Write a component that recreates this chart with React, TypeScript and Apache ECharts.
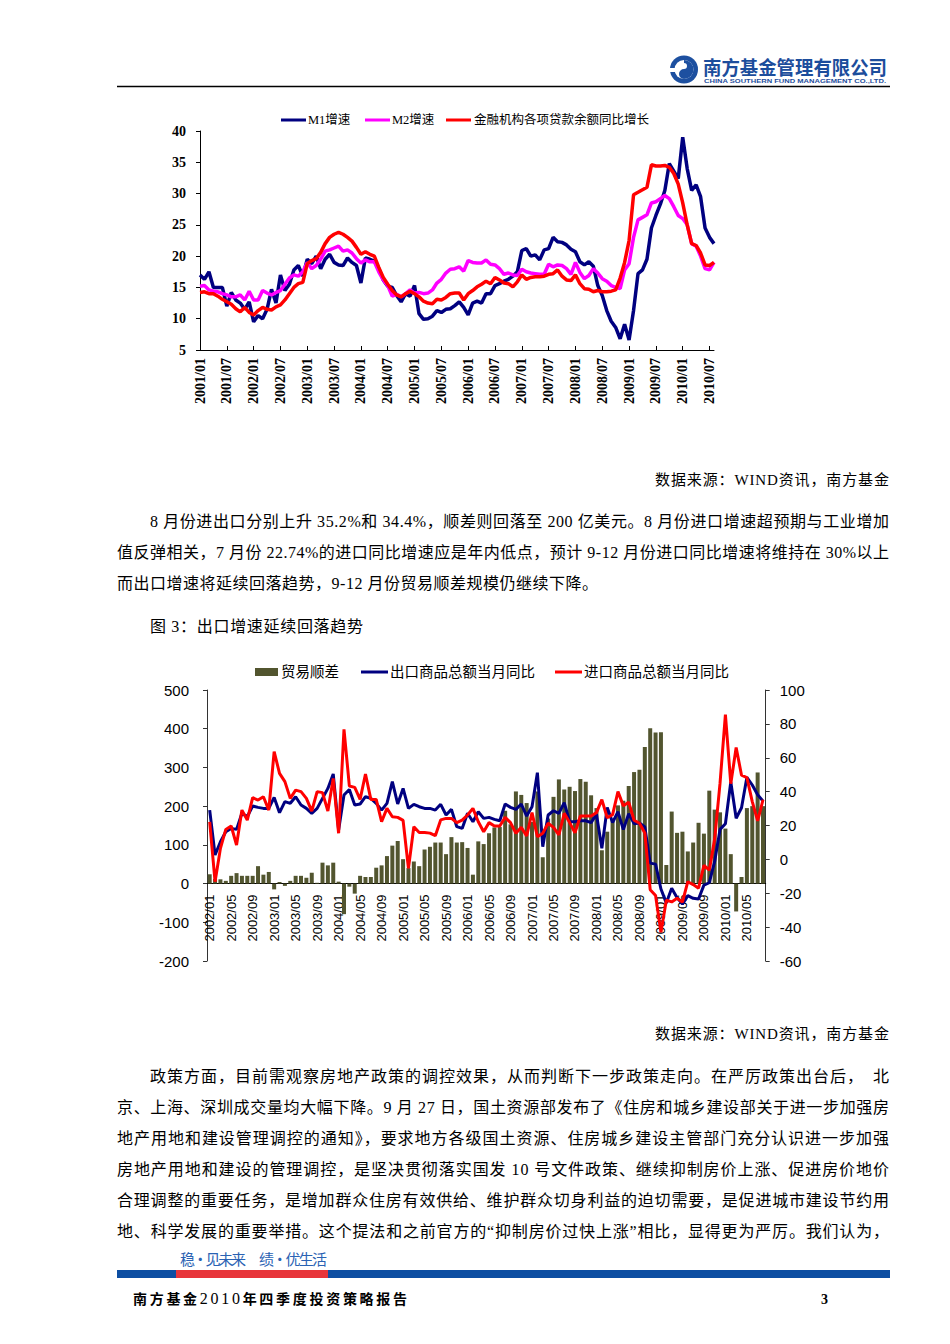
import React, { useEffect, useRef } from "react";
import * as echarts from "echarts";

function monthLabels(startYear: number, startMonth: number, count: number): string[] {
  const out: string[] = [];
  let y = startYear;
  let m = startMonth;
  for (let i = 0; i < count; i++) {
    out.push(y + "/" + (m < 10 ? "0" + m : "" + m));
    m++;
    if (m > 12) { m = 1; y++; }
  }
  return out;
}

// ---------- Chart 1: M1 / M2 / loans growth (2001/01 - 2010/08) ----------
const months1 = monthLabels(2001, 1, 116);
const m1Growth = [
  17.0, 16.3, 17.5, 15.0, 15.0, 15.0, 12.0, 14.2, 13.0, 12.5, 11.5, 12.7,
  9.5, 10.5, 10.0, 11.5, 14.7, 12.5, 17.0, 14.5, 15.5, 17.8, 18.5, 16.8,
  19.5, 18.8, 20.0, 18.0, 19.5, 20.3, 19.0, 18.6, 18.5, 19.7, 19.0, 18.5,
  15.7, 19.7, 19.5, 19.2, 18.0, 16.2, 15.2, 15.0, 13.7, 12.7, 14.0, 13.6,
  15.3, 10.8, 9.9, 10.0, 10.4, 11.3, 11.0, 11.5, 11.6, 12.1, 12.7, 11.8,
  10.6, 12.5, 12.8, 12.5, 14.0, 14.0, 15.3, 15.6, 16.0, 16.3, 16.8, 17.5,
  20.9, 21.2, 20.0, 20.2, 19.4, 21.0, 21.2, 23.0, 22.3, 22.2, 21.8, 21.1,
  20.7, 19.1, 18.6, 19.1, 18.4, 15.3, 13.7, 11.3, 9.6, 8.6, 6.8, 9.1,
  6.6, 11.3, 17.2, 17.8, 19.5, 24.5, 26.5, 28.3, 30.5, 34.8, 33.6, 32.4,
  39.0, 34.0, 30.5, 31.4, 29.5, 24.5, 23.0, 22.0,
];
const m2Growth = [
  15.2, 15.3, 14.6, 14.4, 14.3, 14.0, 13.8, 13.5, 13.5, 13.8, 13.0, 14.4,
  13.0, 13.0, 14.5, 14.1, 13.8, 14.2, 14.5, 15.5, 16.5, 17.0, 16.8, 17.5,
  19.0, 18.0, 18.5, 19.5, 20.8, 21.0, 21.3, 21.6, 20.8, 21.0, 20.5, 19.6,
  18.9, 19.4, 19.1, 19.1, 17.5, 16.2, 15.3, 13.6, 13.9, 13.5, 14.0, 14.6,
  14.1, 14.2, 14.0, 14.1, 14.6, 15.7, 16.3, 17.3, 17.9, 18.0, 18.3, 17.6,
  19.3, 19.0, 18.9, 18.9, 19.4, 18.7, 18.6, 18.0, 17.1, 17.3, 17.0, 16.9,
  17.9, 17.5, 17.3, 17.2, 17.1, 17.1, 18.7, 18.3, 18.6, 18.5, 18.0, 17.1,
  19.0, 17.4, 16.4, 16.9, 18.0, 17.3, 16.4, 16.0, 15.3, 15.0, 14.8, 17.8,
  18.8, 23.0, 25.8, 26.2, 26.6, 28.5, 28.7, 29.2, 29.7, 29.2, 27.9, 26.5,
  26.0, 25.0, 22.0, 21.6, 20.0, 18.0, 17.8, 19.0,
];
const loanGrowth = [
  14.2, 14.3, 14.0, 14.0, 13.6, 13.1, 12.7, 12.3, 11.6, 11.1, 11.8, 11.0,
  10.6, 11.3, 11.8, 11.5, 11.4, 11.9, 12.2, 13.0, 14.0, 15.0, 15.6, 15.8,
  18.8, 19.3, 19.6, 20.6, 22.0, 23.0, 23.5, 23.8, 23.5, 23.0, 22.4, 21.4,
  20.3, 20.7, 20.3, 20.0, 18.2, 16.6, 15.5, 14.5, 13.8, 13.5, 14.0, 14.4,
  14.0, 13.5, 12.8, 12.5, 12.4, 13.1, 13.0, 13.4, 14.0, 14.1, 14.1, 13.0,
  14.0, 14.5, 15.1, 15.5, 16.0, 15.6, 16.6, 16.2, 15.7, 15.6, 15.1, 15.9,
  17.0, 16.3, 16.6, 16.7, 16.7, 16.8, 17.1, 17.2, 17.8, 16.8, 16.2, 16.1,
  17.0, 15.6, 14.8, 14.7, 14.3, 14.5, 14.3, 14.3, 14.4, 14.6, 16.5, 19.0,
  22.5, 29.8, 30.2, 30.6, 31.0, 34.6, 34.4, 34.4, 34.5, 34.2, 33.2, 31.5,
  28.5, 25.0, 22.0, 21.7, 20.5, 18.6, 18.5, 19.0,
];
const legend1 = ["M1增速", "M2增速", "金融机构各项贷款余额同比增长"];

// ---------- Chart 2: trade surplus / export & import yoy (2002/01 - 2010/08) ----------
const months2 = monthLabels(2002, 1, 104);
const tradeSurplus = [
  24, 12, 11, 7, 20, 27, 20, 20, 20, 45, 23, 30,
  -15, 4, -6, 7, 20, 20, 15, 28, 2, 54, 47, 54,
  5, -79, -8, -26, 20, 17, 17, 41, 47, 71, 98, 110,
  63, 40, 57, 45, 88, 95, 106, 106, 76, 120, 106, 107,
  92, 23, 109, 102, 130, 145, 146, 188, 153, 238, 229, 208,
  159, 238, 68, 168, 224, 269, 243, 250, 239, 270, 263, 228,
  195, 86, 134, 167, 202, 214, 252, 288, 294, 353, 401, 390,
  391, 48, 186, 131, 134, 83, 106, 157, 129, 240, 191, 184,
  142, 76, -72, 17, 195, 200, 287, 200,
];
const exportYoY = [
  29.1, 2.6, 10.4, 16.3, 18.3, 17.7, 27.2, 25.2, 31.5, 30.7, 30.1, 30.1,
  36.6, 27.6, 34.1, 33.1, 37.0, 32.1, 30.1, 27.2, 30.1, 36.0, 41.9, 50.4,
  17.3, 38.0, 41.3, 32.1, 32.7, 37.0, 36.0, 33.1, 29.1, 33.1, 45.9, 32.7,
  41.9, 30.1, 32.5, 31.1, 30.1, 30.1, 29.1, 32.5, 26.2, 29.5, 19.3, 18.3,
  27.2, 22.2, 28.1, 24.2, 24.8, 23.6, 22.8, 32.7, 30.7, 29.5, 32.7, 25.6,
  31.1, 51.2, 7.5, 26.2, 28.7, 27.2, 33.5, 22.2, 22.2, 22.8, 22.8, 21.7,
  26.7, 6.5, 30.6, 21.8, 28.1, 17.6, 26.9, 21.1, 21.5, 19.2, -2.2, -2.8,
  -17.5, -25.7, -17.1, -22.6, -26.4, -21.4, -23.0, -23.4, -15.2, -13.8, -1.2, 17.7,
  21.0, 45.7, 24.3, 30.5, 48.5, 43.9, 38.1, 34.4,
];
const importYoY = [
  22.2, -13.2, 6.5, 17.7, 19.7, 8.5, 29.1, 23.2, 36.4, 35.0, 37.0, 29.1,
  63.6, 50.8, 45.9, 36.0, 40.9, 40.0, 36.0, 28.5, 40.0, 39.4, 28.5, 47.8,
  15.4, 76.8, 43.3, 42.5, 35.4, 50.4, 35.4, 35.4, 22.2, 30.1, 25.2, 24.8,
  23.0, -5.3, 19.3, 15.9, 15.9, 15.5, 14.0, 23.3, 24.2, 24.2, 21.7, 23.2,
  26.2, 30.1, 22.2, 16.3, 21.7, 19.7, 19.7, 24.8, 21.7, 15.4, 18.9, 13.8,
  27.6, 13.4, 15.4, 21.3, 18.9, 14.4, 27.2, 21.7, 15.7, 25.6, 25.6, 25.6,
  27.6, 35.3, 24.6, 26.4, 40.0, 31.6, 33.7, 23.1, 21.3, 15.6, -17.9, -21.3,
  -43.1, -24.1, -25.1, -23.0, -25.2, -13.2, -14.9, -17.0, -3.5, -6.4, 12.0, 45.0,
  85.5, 44.7, 66.0, 49.7, 48.3, 34.1, 22.7, 35.2,
];
const legend2 = ["贸易顺差", "出口商品总额当月同比", "进口商品总额当月同比"];

// ---------- document text ----------
const sourceText = "数据来源：WIND资讯，南方基金";
const para1 = [
  "8 月份进出口分别上升 35.2%和 34.4%，顺差则回落至 200 亿美元。8 月份进口增速超预期与工业增加",
  "值反弹相关，7 月份 22.74%的进口同比增速应是年内低点，预计 9-12 月份进口同比增速将维持在 30%以上",
  "而出口增速将延续回落趋势，9-12 月份贸易顺差规模仍继续下降。",
];
const figTitle = "图 3：出口增速延续回落趋势";
const para2 = [
  "政策方面，目前需观察房地产政策的调控效果，从而判断下一步政策走向。在严厉政策出台后，　北",
  "京、上海、深圳成交量均大幅下降。9 月 27 日，国土资源部发布了《住房和城乡建设部关于进一步加强房",
  "地产用地和建设管理调控的通知》，要求地方各级国土资源、住房城乡建设主管部门充分认识进一步加强",
  "房地产用地和建设的管理调控，是坚决贯彻落实国发 10 号文件政策、继续抑制房价上涨、促进房价地价",
  "合理调整的重要任务，是增加群众住房有效供给、维护群众切身利益的迫切需要，是促进城市建设节约用",
  "地、科学发展的重要举措。这个提法和之前官方的“抑制房价过快上涨”相比，显得更为严厉。我们认为，",
];
const sloganLeft = "稳·见未来";
const sloganRight = "绩·优生活";

const NAVY = "#000080";
const MAGENTA = "#ff00ff";
const RED = "#ff0000";
const OLIVE = "#52552f";
const SERIF = '"Liberation Serif", "Noto Sans CJK SC", serif';
const SANS = '"Liberation Sans", "Noto Sans CJK SC", sans-serif';
const BODY = '"Liberation Serif", "Noto Sans CJK SC", serif';

function Chart1() {
  const ref = useRef<HTMLDivElement>(null);
  useEffect(() => {
    const chart = echarts.init(ref.current!, undefined, { renderer: "svg" });
    const legText = { fontFamily: SERIF, fontSize: 12.5, fill: "#000" };
    chart.setOption({
      animation: false,
      grid: { left: 50, top: 31, width: 514, height: 219, containLabel: false, outerBoundsMode: "none" },
      xAxis: {
        type: "category",
        data: months1,
        boundaryGap: false,
        axisLine: { show: true, lineStyle: { color: "#000", width: 1 } },
        axisTick: { show: true, inside: true, interval: 5, length: 4, lineStyle: { color: "#000" } },
        axisLabel: {
          interval: 5, rotate: 90, margin: 8, color: "#000",
          fontFamily: SERIF, fontWeight: "bold", fontSize: 14,
        },
        splitLine: { show: false },
      },
      yAxis: {
        type: "value", min: 5, max: 40, interval: 5,
        axisLine: { show: true, lineStyle: { color: "#000", width: 1 } },
        axisTick: { show: true, length: 4, lineStyle: { color: "#000" } },
        axisLabel: { margin: 14, color: "#000", fontFamily: SERIF, fontWeight: "bold", fontSize: 14 },
        splitLine: { show: false },
      },
      series: [
        { name: legend1[0], type: "line", data: m1Growth, symbol: "none", lineStyle: { color: NAVY, width: 3.5 }, itemStyle: { color: NAVY } },
        { name: legend1[1], type: "line", data: m2Growth, symbol: "none", lineStyle: { color: MAGENTA, width: 3.5 }, itemStyle: { color: MAGENTA } },
        { name: legend1[2], type: "line", data: loanGrowth, symbol: "none", lineStyle: { color: RED, width: 3.5 }, itemStyle: { color: RED } },
      ],
      graphic: [
        { type: "rect", shape: { x: 131, y: 18.5, width: 25, height: 3 }, style: { fill: NAVY } },
        { type: "text", x: 158, y: 20, style: { ...legText, text: legend1[0], verticalAlign: "middle" } },
        { type: "rect", shape: { x: 215, y: 18.5, width: 25, height: 3 }, style: { fill: MAGENTA } },
        { type: "text", x: 242, y: 20, style: { ...legText, text: legend1[1], verticalAlign: "middle" } },
        { type: "rect", shape: { x: 296, y: 18.5, width: 25, height: 3 }, style: { fill: RED } },
        { type: "text", x: 324, y: 20, style: { ...legText, text: legend1[2], verticalAlign: "middle" } },
      ],
    });
    return () => chart.dispose();
  }, []);
  return <div ref={ref} style={{ position: "absolute", left: 150, top: 100, width: 600, height: 320 }} />;
}

function Chart2() {
  const ref = useRef<HTMLDivElement>(null);
  useEffect(() => {
    const chart = echarts.init(ref.current!, undefined, { renderer: "svg" });
    const legText = { fontFamily: SANS, fontSize: 14.5, fill: "#000", verticalAlign: "middle" };
    const yLabel = { color: "#000", fontFamily: SANS, fontSize: 15 };
    const gridTop = 40;
    const gridHeight = 271;
    // the category axis sits on the left axis' zero line
    const zeroOffset = -(gridHeight * 200) / 700;
    chart.setOption({
      animation: false,
      grid: { left: 57, top: gridTop, width: 558.7, height: gridHeight, containLabel: false, outerBoundsMode: "none" },
      xAxis: {
        type: "category",
        data: months2,
        boundaryGap: true,
        position: "bottom",
        offset: zeroOffset,
        axisLine: { show: true, onZero: false, lineStyle: { color: "#000", width: 1 } },
        axisTick: { show: false },
        axisLabel: { interval: 3, rotate: 90, margin: 11, color: "#000", fontFamily: SANS, fontSize: 13 },
        splitLine: { show: false },
      },
      yAxis: [
        {
          type: "value", min: -200, max: 500, interval: 100,
          axisLine: { show: true, lineStyle: { color: "#333", width: 1 } },
          axisTick: { show: true, length: 4, lineStyle: { color: "#333" } },
          axisLabel: { margin: 18, ...yLabel },
          splitLine: { show: false },
        },
        {
          type: "value", min: -60, max: 100, interval: 20, position: "right",
          axisLine: { show: true, lineStyle: { color: "#333", width: 1 } },
          axisTick: { show: true, length: 4, lineStyle: { color: "#333" } },
          axisLabel: { margin: 14, ...yLabel },
          splitLine: { show: false },
        },
      ],
      series: [
        { name: legend2[0], type: "bar", yAxisIndex: 0, data: tradeSurplus, barWidth: 4, itemStyle: { color: OLIVE } },
        { name: legend2[1], type: "line", yAxisIndex: 1, data: exportYoY, symbol: "none", lineStyle: { color: NAVY, width: 3 }, itemStyle: { color: NAVY } },
        { name: legend2[2], type: "line", yAxisIndex: 1, data: importYoY, symbol: "none", lineStyle: { color: RED, width: 3 }, itemStyle: { color: RED } },
      ],
      graphic: [
        { type: "rect", shape: { x: 105, y: 18, width: 23, height: 8 }, style: { fill: OLIVE } },
        { type: "text", x: 131, y: 22, style: { ...legText, text: legend2[0] } },
        { type: "rect", shape: { x: 211, y: 20.5, width: 27, height: 3 }, style: { fill: NAVY } },
        { type: "text", x: 240, y: 22, style: { ...legText, text: legend2[1] } },
        { type: "rect", shape: { x: 405, y: 20.5, width: 27, height: 3 }, style: { fill: RED } },
        { type: "text", x: 434, y: 22, style: { ...legText, text: legend2[2] } },
      ],
    });
    return () => chart.dispose();
  }, []);
  return <div ref={ref} style={{ position: "absolute", left: 150, top: 650, width: 680, height: 340 }} />;
}

function Page() {
  const bodyProps = { fontFamily: BODY, fontSize: 16, fill: "#000" };
  return (
    <svg width={950} height={1344} style={{ position: "absolute", left: 0, top: 0 }}>
      <rect x={0} y={0} width={950} height={1344} fill="#fff" />
      {/* header logo */}
      <g>
        <circle cx={684} cy={69.5} r={14} fill="#1d50a0" />
        <circle cx={684} cy={69.5} r={9.5} fill="#fff" />
        <path d="M684,60 A9.5,9.5 0 0 1 684,79 A5,5 0 0 1 684,69 A3,3 0 0 0 684,63 Z" fill="#1d50a0" />
        <rect x={669} y={68} width={6} height={4} fill="#fff" />
      </g>
      <text x={703} y={75} fontFamily='"Noto Sans CJK SC", sans-serif' fontWeight="bold" fontSize={19} fill="#1c4d9c" textLength={184} lengthAdjust="spacingAndGlyphs">南方基金管理有限公司</text>
      <text x={704} y={82.5} fontFamily='"Liberation Sans", sans-serif' fontWeight="bold" fontSize={5.5} fill="#1c4d9c" textLength={182} lengthAdjust="spacingAndGlyphs">CHINA SOUTHERN FUND MANAGEMENT CO.,LTD.</text>
      <line x1={117} y1={86.5} x2={890} y2={86.5} stroke="#000" strokeWidth={1.5} />

      {/* source 1 */}
      <text x={655} y={485} fontFamily={BODY} fontSize={15} fill="#000" textLength={234} lengthAdjust="spacing">{sourceText}</text>

      {/* paragraph 1 */}
      <text x={150} y={527} {...bodyProps} textLength={739} lengthAdjust="spacing">{para1[0]}</text>
      <text x={117} y={558} {...bodyProps} textLength={772} lengthAdjust="spacing">{para1[1]}</text>
      <text x={117} y={589} {...bodyProps} textLength={481} lengthAdjust="spacing">{para1[2]}</text>

      <text x={150} y={632} {...bodyProps} textLength={213} lengthAdjust="spacing">{figTitle}</text>

      {/* source 2 */}
      <text x={655} y={1039} fontFamily={BODY} fontSize={15} fill="#000" textLength={234} lengthAdjust="spacing">{sourceText}</text>

      {/* paragraph 2 */}
      <text x={150} y={1082} {...bodyProps} textLength={739} lengthAdjust="spacing">{para2[0]}</text>
      {para2.slice(1).map((t, i) => (
        <text key={i} x={117} y={1113 + i * 31} {...bodyProps} textLength={772} lengthAdjust="spacing">{t}</text>
      ))}

      {/* footer */}
      <text x={180} y={1265} fontFamily='"Noto Sans CJK SC", sans-serif' fontSize={15} fill="#2a62b3" textLength={66} lengthAdjust="spacing">{sloganLeft}</text>
      <text x={259} y={1265} fontFamily='"Noto Sans CJK SC", sans-serif' fontSize={15} fill="#2a62b3" textLength={68} lengthAdjust="spacing">{sloganRight}</text>
      <rect x={117} y={1270} width={773} height={8} fill="#0d4ea2" />
      <rect x={176} y={1270} width={152} height={8} fill="#e8353a" />
      <text x={133} y={1304} fontFamily={BODY} fontWeight="bold" fontSize={14} fill="#000" textLength={274} lengthAdjust="spacing">南方基金<tspan fontSize={16} fontWeight="normal">2010</tspan>年四季度投资策略报告</text>
      <text x={821} y={1304} fontFamily={BODY} fontWeight="bold" fontSize={14} fill="#000">3</text>
    </svg>
  );
}

export default function App() {
  return (
    <div style={{ position: "absolute", left: 0, top: 0, width: 950, height: 1344, background: "#fff", overflow: "hidden" }}>
      <Page />
      <Chart1 />
      <Chart2 />
    </div>
  );
}
